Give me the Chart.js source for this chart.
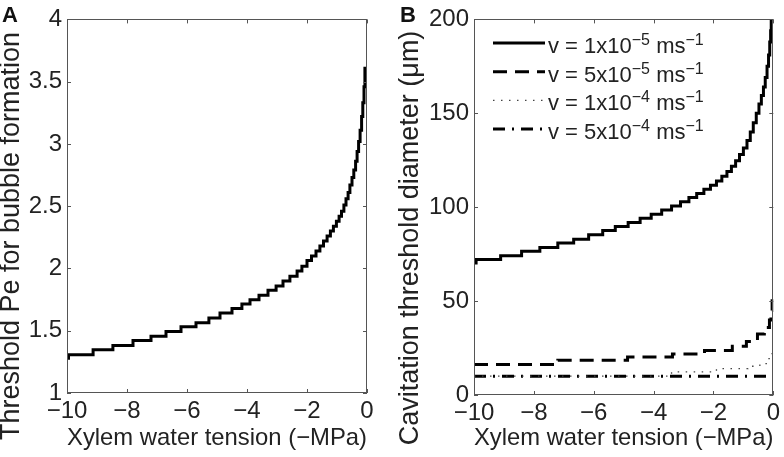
<!DOCTYPE html>
<html>
<head>
<meta charset="utf-8">
<script src="https://cdn.jsdelivr.net/npm/chart.js@4.4.1/dist/chart.umd.min.js"></script>
<style>
  body { margin: 0; background: #fff; }
  #wrap { position: relative; width: 784px; height: 457px; }
  .panel { position: absolute; top: 0; width: 392px; height: 457px; }
  .tag { position: absolute; top: 4px; font: bold 22px "Liberation Sans", Arial, sans-serif; line-height: 22px; color: #111; }
</style>
</head>
<body>
<div id="wrap">
  <div class="panel" style="left:0"><canvas id="chartA"></canvas></div>
  <div class="panel" style="left:392px"><canvas id="chartB"></canvas></div>
  <div class="tag" style="left:2px">A</div>
  <div class="tag" style="left:400px">B</div>
</div>
<script>
// =========================================
// DATA
// =========================================

const xTickLabels = ["\u221210", "\u22128", "\u22126", "\u22124", "\u22122", "0"];
const yTickLabelsA = ["1", "1.5", "2", "2.5", "3", "3.5", "4"];
const yTickLabelsB = ["0", "50", "100", "150", "200"];

// panel A: threshold Pe (step starts)
const tensionA = [-10, -9.95, -9.13, -8.47, -7.8, -7.2, -6.7, -6.2, -5.7, -5.27,
  -4.9, -4.5, -4.17, -3.9, -3.6, -3.3, -3.03, -2.8, -2.57, -2.33, -2.17, -2.0,
  -1.85, -1.7, -1.57, -1.45, -1.33, -1.22, -1.12, -1.02, -0.93, -0.85, -0.77,
  -0.7, -0.63, -0.57, -0.5, -0.44, -0.38, -0.33, -0.28, -0.23, -0.18, -0.14,
  -0.1, -0.07];
const thresholdPe = [1.28, 1.308, 1.348, 1.382, 1.422, 1.456, 1.493, 1.531, 1.565, 1.602,
  1.642, 1.679, 1.714, 1.748, 1.785, 1.825, 1.859, 1.899, 1.937, 1.979, 2.018, 2.064,
  2.10, 2.14, 2.18, 2.22, 2.26, 2.30, 2.34, 2.38, 2.42, 2.46, 2.51,
  2.56, 2.61, 2.67, 2.73, 2.79, 2.86, 2.94, 3.02, 3.11, 3.22, 3.33,
  3.46, 3.62];

// panel B: cavitation threshold diameter (um)
const seriesLabels = [
  "v = 1x10^\u22125 ms^\u22121",
  "v = 5x10^\u22125 ms^\u22121",
  "v = 1x10^\u22124 ms^\u22121",
  "v = 5x10^\u22124 ms^\u22121"
];

const tension1e5 = [-10, -9.93, -9.11, -8.41, -7.8, -7.2, -6.67, -6.17, -5.7, -5.28,
  -4.85, -4.45, -4.08, -3.73, -3.4, -3.1, -2.82, -2.56, -2.32, -2.1,
  -1.9, -1.72, -1.55, -1.4, -1.26, -1.13, -1.0, -0.88, -0.77, -0.67,
  -0.57, -0.48, -0.4, -0.33, -0.27, -0.21, -0.16, -0.12, -0.09, -0.07];
const diam1e5 = [70.3, 72.1, 74.2, 76.5, 78.6, 80.9, 83.0, 85.3, 87.6, 89.7,
  91.9, 94.1, 96.3, 98.5, 100.7, 102.9, 105.1, 107.3, 109.5, 111.7,
  114, 116.5, 119, 121.8, 124.8, 128, 131.5, 135.5, 140, 145,
  150, 155, 159.5, 164, 169, 175, 181, 188, 194, 200];

const tension5e5 = [-10, -7.2, -4.87, -3.37, -2.3, -1.37, -0.9, -0.53, -0.3, -0.13, -0.08, -0.04];
const diam5e5 = [16.2, 18.5, 20.2, 21.8, 23.7, 25.9, 28.5, 32.5, 36, 40, 45, 51];

const tension1e4 = [-10, -3.4, -1.9, -0.85, -0.45, -0.2, -0.08, -0.03];
const diam1e4 = [10, 12.3, 14, 15.3, 16.7, 19.4, 22, 24.6];

const tension5e4 = [-10, -0.13];
const diam5e4 = [10, 10];


// =========================================
// HELPERS / PLUGINS
// =========================================

const FONT = '"Liberation Sans", Arial, Helvetica, sans-serif';
const TEXT = "#222";

function pts(xs, ys) {
  return xs.map((x, i) => ({ x: x, y: ys[i] }));
}

// matlab style box with inward ticks on all sides
const matlabBox = {
  id: "matlabBox",
  afterDatasetsDraw(chart) {
    const { ctx, chartArea: a, scales } = chart;
    const tl = 4;
    ctx.save();
    ctx.strokeStyle = "#555";
    ctx.lineWidth = 1;
    ctx.beginPath();
    scales.x.ticks.forEach(t => {
      const px = Math.round(scales.x.getPixelForValue(t.value)) + 0.5;
      ctx.moveTo(px, a.bottom); ctx.lineTo(px, a.bottom - tl);
      ctx.moveTo(px, a.top); ctx.lineTo(px, a.top + tl);
    });
    scales.y.ticks.forEach(t => {
      const py = Math.round(scales.y.getPixelForValue(t.value)) + 0.5;
      ctx.moveTo(a.left, py); ctx.lineTo(a.left + tl, py);
      ctx.moveTo(a.right, py); ctx.lineTo(a.right - tl, py);
    });
    ctx.stroke();
    ctx.strokeRect(Math.round(a.left) + 0.5, Math.round(a.top) + 0.5,
      Math.round(a.width) - 1, Math.round(a.height) - 1);
    ctx.restore();
  }
};

// rotated y title placed where the figure has it
const sideTitle = {
  id: "sideTitle",
  afterDraw(chart, args, opts) {
    if (!opts.text) return;
    const ctx = chart.ctx;
    ctx.save();
    ctx.translate(opts.x, opts.y);
    ctx.rotate(-Math.PI / 2);
    ctx.font = "27px " + FONT;
    ctx.fillStyle = TEXT;
    ctx.textAlign = "center";
    ctx.textBaseline = "middle";
    ctx.fillText(opts.text, 0, 0);
    ctx.restore();
  }
};

// legend with superscripts
const supLegend = {
  id: "supLegend",
  afterDraw(chart, args, opts) {
    if (!opts.display) return;
    const ctx = chart.ctx;
    chart.data.datasets.forEach((ds, i) => {
      const base = opts.top + i * opts.rowGap;
      ctx.save();
      ctx.strokeStyle = ds.borderColor;
      ctx.lineWidth = ds.borderWidth;
      ctx.setLineDash(ds.borderDash || []);
      ctx.beginPath();
      ctx.moveTo(opts.x0, base - 10);
      ctx.lineTo(opts.x1, base - 10);
      ctx.stroke();
      ctx.setLineDash([]);
      ctx.fillStyle = TEXT;
      ctx.textBaseline = "alphabetic";
      let x = opts.textX;
      ds.label.split(/(\^\S+)/).forEach(part => {
        if (!part) return;
        if (part[0] === "^") {
          const s = part.slice(1);
          ctx.font = "16px " + FONT;
          ctx.fillText(s, x, base - 8);
          x += ctx.measureText(s).width;
        } else {
          ctx.font = "22px " + FONT;
          ctx.fillText(part, x, base);
          x += ctx.measureText(part).width;
        }
      });
      ctx.restore();
    });
  }
};

function makeOptions(cfg) {
  return {
    responsive: true,
    maintainAspectRatio: false,
    animation: false,
    layout: { padding: { top: 16, right: cfg.padRight, left: 0, bottom: 0 } },
    scales: {
      x: {
        type: "linear",
        min: -10,
        max: 0,
        grid: { display: false, drawTicks: false, tickLength: 0 },
        border: { display: false },
        ticks: {
          stepSize: 2,
          maxRotation: 0,
          padding: 4,
          color: TEXT,
          font: { family: FONT, size: 24 },
          callback: (v, i) => xTickLabels[i]
        },
        title: {
          display: true,
          text: "Xylem water tension (\u2212MPa)",
          color: TEXT,
          font: { family: FONT, size: 24 },
          padding: { top: 0, bottom: 4 }
        },
        afterFit: s => { s.height = cfg.xHeight; }
      },
      y: {
        type: "linear",
        min: cfg.yMin,
        max: cfg.yMax,
        grid: { display: false, drawTicks: false, tickLength: 0 },
        border: { display: false },
        ticks: {
          stepSize: cfg.yStep,
          padding: 5,
          color: TEXT,
          font: { family: FONT, size: 24 },
          callback: (v, i) => cfg.yLabels[i]
        },
        afterFit: s => { s.width = cfg.yWidth; }
      }
    },
    plugins: {
      legend: { display: false },
      tooltip: { enabled: false },
      sideTitle: cfg.sideTitle,
      supLegend: cfg.legend || { display: false }
    }
  };
}


// =========================================
// PANEL A
// =========================================

new Chart(document.getElementById("chartA"), {
  type: "line",
  data: {
    datasets: [{
      label: "Threshold Pe",
      data: pts(tensionA, thresholdPe),
      borderColor: "#000",
      borderWidth: 3,
      stepped: true,
      pointRadius: 0,
      fill: false
    }]
  },
  options: makeOptions({
    padRight: 25,
    xHeight: 64,
    yWidth: 67,
    yMin: 1,
    yMax: 4,
    yStep: 0.5,
    yLabels: yTickLabelsA,
    sideTitle: { text: "Threshold Pe for bubble formation", x: 12, y: 236 }
  }),
  plugins: [matlabBox, sideTitle, supLegend]
});


// =========================================
// PANEL B
// =========================================

new Chart(document.getElementById("chartB"), {
  type: "line",
  data: {
    datasets: [{
      label: seriesLabels[0],
      data: pts(tension1e5, diam1e5),
      borderColor: "#000",
      borderWidth: 3,
      stepped: true,
      pointRadius: 0
    }, {
      label: seriesLabels[1],
      data: pts(tension5e5, diam5e5),
      borderColor: "#000",
      borderWidth: 3,
      borderDash: [14, 8],
      stepped: true,
      pointRadius: 0
    }, {
      label: seriesLabels[2],
      data: pts(tension1e4, diam1e4),
      borderColor: "#444",
      borderWidth: 1.3,
      borderDash: [1.5, 6.5],
      stepped: true,
      pointRadius: 0
    }, {
      label: seriesLabels[3],
      data: pts(tension5e4, diam5e4),
      borderColor: "#000",
      borderWidth: 3,
      borderDash: [12, 7, 2, 7],
      stepped: true,
      pointRadius: 0
    }]
  },
  options: makeOptions({
    padRight: 10,
    xHeight: 62,
    yWidth: 82,
    yMin: 0,
    yMax: 200,
    yStep: 50,
    yLabels: yTickLabelsB,
    sideTitle: { text: "Cavitation threshold diameter (\u03bcm)", x: 19, y: 238 },
    legend: { display: true, x0: 101, x1: 153, textX: 156, top: 53, rowGap: 28.7 }
  }),
  plugins: [matlabBox, sideTitle, supLegend]
});
</script>
</body>
</html>
